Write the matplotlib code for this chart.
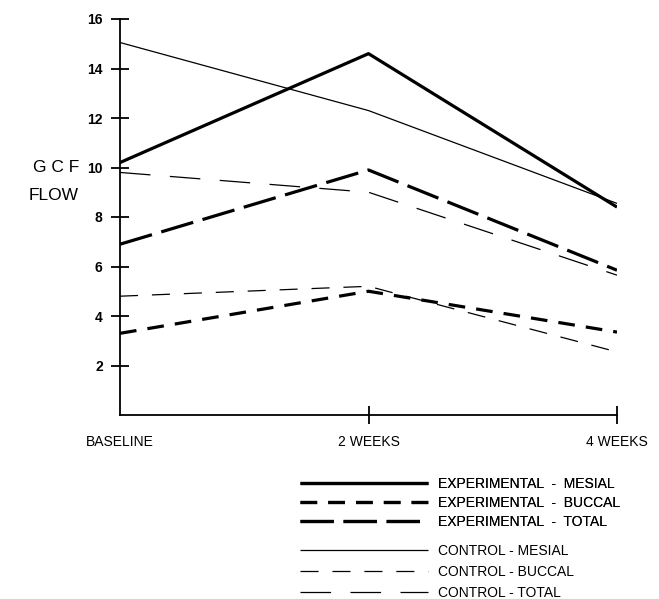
import matplotlib.pyplot as plt

plt.rcParams['font.family'] = ['Liberation Sans', 'DejaVu Sans']
plt.rcParams['lines.scale_dashes'] = False

# Data
timepoints = ['BASELINE', '2 WEEKS', '4 WEEKS']
exp_mesial = [10.2, 14.6, 8.4]
exp_buccal = [3.3, 5.0, 3.35]
exp_total = [6.9, 9.9, 5.85]
ctl_mesial = [15.05, 12.3, 8.55]
ctl_buccal = [4.8, 5.2, 2.55]
ctl_total = [9.8, 9.0, 5.65]
yticks = [2, 4, 6, 8, 10, 12, 14, 16]

fig = plt.figure(figsize=(6.59, 5.99), dpi=100)
ax = fig.add_axes([120 / 659, 1 - 415 / 599, 497 / 659, 396 / 599])

x = range(len(timepoints))
series = [
    (exp_mesial, 'EXPERIMENTAL  -  MESIAL', 2.3, None),
    (exp_buccal, 'EXPERIMENTAL  -  BUCCAL', 2.3, (12, 8)),
    (exp_total, 'EXPERIMENTAL  -  TOTAL', 2.3, (24, 7)),
    (ctl_mesial, 'CONTROL - MESIAL', 0.9, None),
    (ctl_buccal, 'CONTROL - BUCCAL', 0.9, (13, 10)),
    (ctl_total, 'CONTROL - TOTAL', 0.9, (22, 14)),
]
handles = []
for vals, label, lw, dash in series:
    line, = ax.plot(x, vals, color='black', lw=lw, label=label,
                    solid_capstyle='butt', dash_capstyle='butt')
    if dash:
        line.set_dashes(dash)
    handles.append(line)

ax.set_xlim(0, 2)
ax.set_ylim(0, 16)
ax.set_yticks(yticks)
ax.set_xticks([0, 1, 2])
ax.set_xticklabels(timepoints)
for s in ['top', 'right']:
    ax.spines[s].set_visible(False)
ax.spines['left'].set_linewidth(1.3)
ax.spines['bottom'].set_linewidth(1.3)
ax.tick_params(axis='y', direction='inout', length=13, width=1.3, pad=6,
               labelsize=10)
ax.tick_params(axis='x', direction='inout', length=13, width=1.3, pad=8,
               labelsize=10)
for lab in ax.get_yticklabels():
    lab.set_fontweight('bold')
ax.get_xticklines()[0].set_visible(False)
ax.get_xticklines()[1].set_visible(False)

fig.text(56 / 659, 1 - 168 / 599, 'G C F', ha='center', va='center', fontsize=12.5)
fig.text(54 / 659, 1 - 196 / 599, 'FLOW', ha='center', va='center', fontsize=12.5)

leg_kw = dict(loc='upper left', frameon=False, borderpad=0, borderaxespad=0,
              handlelength=9.2, handletextpad=0.75, prop={'size': 10})
leg1 = fig.legend(handles=handles[:3], bbox_to_anchor=(300 / 659, 1 - 477 / 599),
                  labelspacing=0.35, **leg_kw)
leg2 = fig.legend(handles=handles[3:], bbox_to_anchor=(300 / 659, 1 - 544 / 599),
                  labelspacing=0.5, **leg_kw)
fig.add_artist(leg1)

fig.savefig('out.png', dpi=100)
